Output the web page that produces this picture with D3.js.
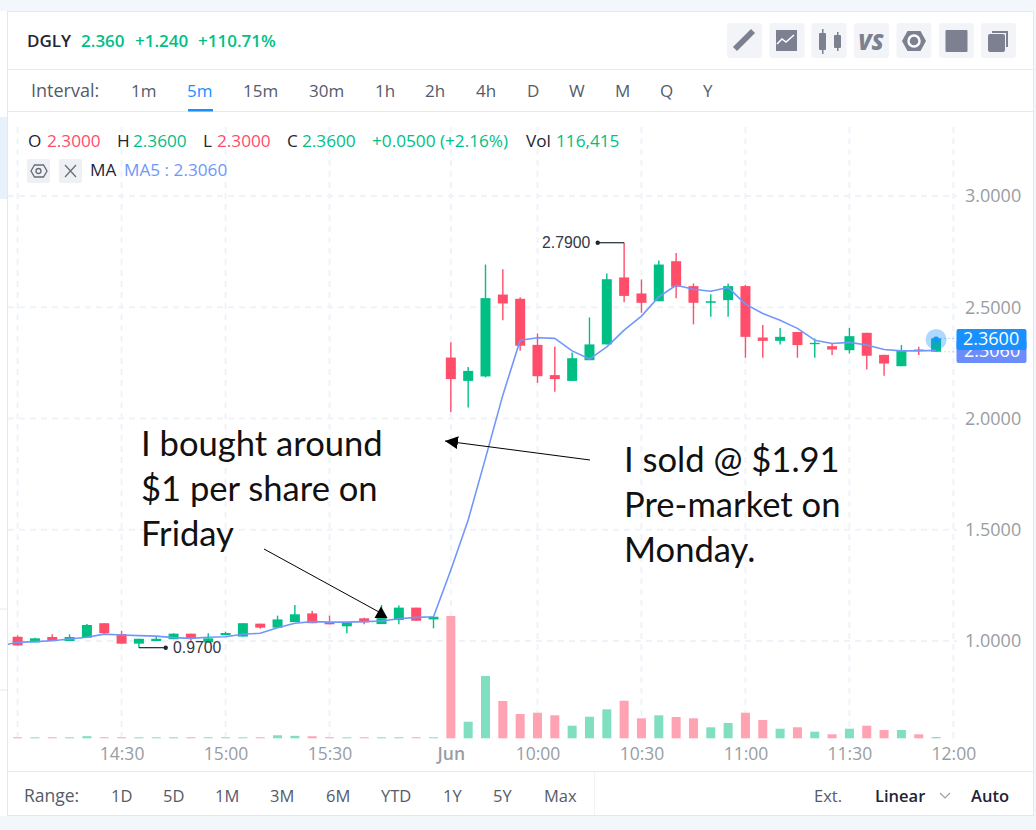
<!DOCTYPE html>
<html>
<head>
<meta charset="utf-8">
<script src="https://cdn.jsdelivr.net/npm/d3@7/dist/d3.min.js"></script>
<style>
html, body { margin: 0; padding: 0; background: #fff; overflow: hidden; }
svg { display: block; font-family: "Open Sans", sans-serif; }
</style>
</head>
<body>
<svg width="1036" height="830"></svg>
<script>
// one entry per 5 minute candle, friday first then monday
var opens = [1.019, 0.994, 1.018, 1.000, 1.015, 1.080, 1.031, 0.988, 1.000, 1.008, 1.033, 0.994, 1.026, 1.020, 1.078, 1.060, 1.085, 1.124, 1.084, 1.066, 1.102, 1.076, 1.094, 1.150, 1.097,
    2.274, 2.169, 2.189, 2.557, 2.538, 2.331, 2.195, 2.169, 2.262, 2.333, 2.634, 2.562, 2.527, 2.707, 2.595, 2.520, 2.532, 2.595, 2.364, 2.349, 2.389, 2.334, 2.325, 2.307, 2.385, 2.286, 2.235, 2.310, 2.300];
var highs = [1.025, 1.015, 1.030, 1.030, 1.076, 1.080, 1.046, 1.010, 1.018, 1.035, 1.033, 1.035, 1.042, 1.080, 1.078, 1.114, 1.162, 1.135, 1.114, 1.084, 1.105, 1.162, 1.160, 1.150, 1.109,
    2.343, 2.231, 2.692, 2.671, 2.545, 2.382, 2.324, 2.297, 2.454, 2.652, 2.790, 2.625, 2.710, 2.744, 2.607, 2.558, 2.607, 2.600, 2.420, 2.407, 2.389, 2.360, 2.340, 2.407, 2.385, 2.286, 2.330, 2.322, 2.360];
var lows = [0.980, 0.994, 1.000, 1.000, 1.015, 1.030, 0.988, 0.970, 1.000, 1.008, 0.997, 0.994, 1.026, 1.020, 1.055, 1.060, 1.085, 1.080, 1.075, 1.035, 1.075, 1.076, 1.075, 1.091, 1.057,
    2.028, 2.050, 2.185, 2.442, 2.304, 2.160, 2.120, 2.169, 2.262, 2.333, 2.523, 2.475, 2.527, 2.541, 2.423, 2.457, 2.457, 2.273, 2.273, 2.333, 2.273, 2.273, 2.285, 2.292, 2.220, 2.192, 2.235, 2.285, 2.300];
var closes = [0.980, 1.012, 1.000, 1.018, 1.072, 1.035, 0.988, 1.010, 1.010, 1.033, 1.009, 1.012, 1.036, 1.080, 1.060, 1.097, 1.120, 1.080, 1.075, 1.084, 1.084, 1.103, 1.150, 1.091, 1.109,
    2.177, 2.214, 2.541, 2.517, 2.327, 2.190, 2.177, 2.271, 2.333, 2.626, 2.551, 2.520, 2.692, 2.592, 2.520, 2.527, 2.595, 2.367, 2.349, 2.367, 2.330, 2.340, 2.310, 2.370, 2.282, 2.247, 2.304, 2.304, 2.360];
var volumes = [90, 90, 90, 90, 190, 90, 90, 90, 90, 90, 90, 90, 90, 90, 90, 270, 220, 180, 90, 90, 90, 90, 90, 90, 90,
    10950, 1486, 5576, 3338, 2175, 2291, 2058, 1128, 1933, 2595, 3365, 1790, 2058, 1906, 1790, 985, 1369, 2291, 1638, 859, 985, 591, 358, 859, 1128, 743, 743, 358, 116];
var ma5 = [0.994, 0.997, 1.001, 1.009, 1.017, 1.031, 1.027, 1.024, 1.022, 1.015, 1.012, 1.017, 1.019, 1.030, 1.035, 1.060, 1.080, 1.087, 1.085, 1.085, 1.087, 1.090, 1.100, 1.106, 1.109,
    1.319, 1.544, 1.822, 2.105, 2.352, 2.363, 2.360, 2.304, 2.267, 2.322, 2.397, 2.460, 2.547, 2.599, 2.581, 2.572, 2.589, 2.514, 2.472, 2.442, 2.405, 2.352, 2.337, 2.342, 2.330, 2.310, 2.304, 2.304, 2.306];

var priceTicks = [1, 1.5, 2, 2.5, 3];
var timeTicks = [6, 12, 18, 25, 30, 36, 42, 48, 54];
var timeLabels = ["14:30", "15:00", "15:30", "Jun", "10:00", "10:30", "11:00", "11:30", "12:00"];
var gridTimes = [0, 6, 12, 18, 25, 30, 36, 42, 48, 54];

var intervals = ["1m", "5m", "15m", "30m", "1h", "2h", "4h", "D", "W", "M", "Q", "Y"];
var intervalX = [131, 187, 243, 309, 375, 425, 476, 527, 569, 615, 660, 703];
var ranges = ["1D", "5D", "1M", "3M", "6M", "YTD", "1Y", "5Y", "Max"];
var rangeX = [111, 163, 215, 270, 326, 381, 443, 493, 544];

var UP = "#00bf85", DOWN = "#ff4d6a", MA = "#7098fb", BLUE = "#1890ff";
var INK = "#1f2536", UI = "#545b6b", AXIS = "#999da3", GRID = "#eff3f9";

var svg = d3.select("svg");

var x = d3.scaleLinear().domain([0, 54]).range([17.6, 953.4]);
var y = d3.scaleLinear().domain([1, 3]).range([641, 196]);
var v = d3.scaleLinear().domain([0, 10950]).range([738.3, 616]);

// page frame
svg.append("rect").attr("width", 1036).attr("height", 830).attr("fill", "#f3f6fb");
svg.append("rect").attr("x", 0).attr("y", 11).attr("width", 7).attr("height", 805).attr("fill", "#fff");
svg.append("rect").attr("x", 0).attr("y", 117).attr("width", 7).attr("height", 82).attr("fill", "#e6f1fc");
[609, 690].forEach(function(p) {
    svg.append("line").attr("x1", 0).attr("x2", 7).attr("y1", p).attr("y2", p).attr("stroke", "#e4e8f0");
});
svg.append("rect").attr("x", 7.5).attr("y", 11.5).attr("width", 1026).attr("height", 804)
    .attr("fill", "#fff").attr("stroke", "#e2e7f0");
svg.append("line").attr("x1", 8).attr("x2", 1033).attr("y1", 69.5).attr("y2", 69.5).attr("stroke", "#e6eaf1");
svg.append("line").attr("x1", 8).attr("x2", 1033).attr("y1", 111.5).attr("y2", 111.5).attr("stroke", "#e6eaf1");
svg.append("line").attr("x1", 8).attr("x2", 1033).attr("y1", 771.5).attr("y2", 771.5).attr("stroke", "#e6eaf1");
svg.append("line").attr("x1", 594.5).attr("x2", 594.5).attr("y1", 772).attr("y2", 815).attr("stroke", "#f1f3f7");

function label(str, px, py, fill, size, weight, family) {
    return svg.append("text").attr("x", px).attr("y", py).attr("fill", fill)
        .attr("font-size", size).attr("font-weight", weight || 400)
        .attr("font-family", family || null).text(str);
}

// header
label("DGLY", 27, 47, INK, 17, 600);
label("2.360", 81, 47, UP, 17, 600);
label("+1.240", 135, 47, UP, 17, 600);
label("+110.71%", 198, 47, UP, 17, 600);

// toolbar buttons
var toolX = [727, 769.5, 811.5, 854, 896.5, 939, 981];
toolX.forEach(function(tx) {
    svg.append("rect").attr("x", tx).attr("y", 23).attr("width", 35).attr("height", 35).attr("rx", 3).attr("fill", "#f3f4f7");
});
var ICON = "#7c8091";
svg.append("path").attr("d", "M734 47l3 3l14-14l-3-3z M749 32l3 3l2-2l-3-3z").attr("fill", ICON).attr("stroke", ICON).attr("stroke-width", 1.5);
svg.append("rect").attr("x", 776).attr("y", 30).attr("width", 21).attr("height", 21).attr("fill", ICON);
svg.append("path").attr("d", "M777 44l5-5l4 3l8-7").attr("fill", "none").attr("stroke", "#fff").attr("stroke-width", 1.5);
svg.append("rect").attr("x", 819).attr("y", 33).attr("width", 7).attr("height", 17).attr("rx", 1).attr("fill", ICON);
svg.append("rect").attr("x", 822).attr("y", 29).attr("width", 1.5).attr("height", 25).attr("fill", ICON);
svg.append("rect").attr("x", 834).attr("y", 35).attr("width", 7).attr("height", 13).attr("rx", 1).attr("fill", ICON);
svg.append("rect").attr("x", 837).attr("y", 32).attr("width", 1.5).attr("height", 19).attr("fill", ICON);
label("VS", 858, 50, ICON, 22, 800).attr("font-style", "italic");
svg.append("path").attr("d", "M902 41l5.5-10h13l5.5 10l-5.5 10h-13z").attr("fill", ICON);
svg.append("circle").attr("cx", 914).attr("cy", 41).attr("r", 5.5).attr("fill", "none").attr("stroke", "#fff").attr("stroke-width", 2.5);
svg.append("rect").attr("x", 945.5).attr("y", 30).attr("width", 22).attr("height", 22).attr("rx", 1).attr("fill", ICON);
svg.append("rect").attr("x", 988).attr("y", 34).attr("width", 17).attr("height", 18).attr("rx", 2).attr("fill", ICON);
svg.append("path").attr("d", "M992 32h15v15").attr("fill", "none").attr("stroke", ICON).attr("stroke-width", 2);

// interval row
label("Interval:", 31, 97, UI, 18, 500);
intervals.forEach(function(d, i) {
    label(d, intervalX[i], 97, d == "5m" ? BLUE : UI, 17, 500);
});
svg.append("rect").attr("x", 188).attr("y", 109).attr("width", 25).attr("height", 2.5).attr("fill", BLUE);

// grid
var grid = svg.append("g").attr("stroke", GRID).attr("stroke-width", 2).attr("stroke-dasharray", "6 5").attr("fill", "none");
grid.selectAll(".gv").data(gridTimes).enter().append("line").attr("class", "gv")
    .attr("x1", function(d) { return x(d); })
    .attr("x2", function(d) { return x(d); })
    .attr("y1", 127).attr("y2", 738);
grid.selectAll(".gh").data(priceTicks).enter().append("line").attr("class", "gh")
    .attr("x1", 8).attr("x2", 957)
    .attr("y1", function(d) { return y(d); })
    .attr("y2", function(d) { return y(d); });

// readout
var readout = [
    ["O", 28, INK], ["2.3000", 47, DOWN], ["H", 117, INK], ["2.3600", 133, UP], ["L", 203, INK], ["2.3000", 217, DOWN],
    ["C", 287, INK], ["2.3600", 302, UP], ["+0.0500 (+2.16%)", 372, UP], ["Vol", 526, INK], ["116,415", 556, UP]
];
readout.forEach(function(d) { label(d[0], d[1], 147, d[2], 17.2); });
[27, 59].forEach(function(bx) {
    svg.append("rect").attr("x", bx).attr("y", 159).attr("width", 23).attr("height", 24).attr("rx", 2).attr("fill", "#eef0f3");
});
svg.append("path").attr("d", "M31 171l3.5-6h9l3.5 6l-3.5 6h-9z").attr("fill", "none").attr("stroke", "#666b78").attr("stroke-width", 1.3);
svg.append("circle").attr("cx", 38.5).attr("cy", 171).attr("r", 2.5).attr("fill", "none").attr("stroke", "#666b78").attr("stroke-width", 1.3);
svg.append("path").attr("d", "M65 165l11 12M76 165l-11 12").attr("stroke", "#666b78").attr("stroke-width", 1.2);
label("MA", 90, 176, INK, 17.2);
label("MA5 : 2.3060", 124, 176, MA, 17.2);

// volume bars
svg.append("g").selectAll("rect").data(volumes).enter().append("rect")
    .attr("x", function(d, i) { return x(i) - 4.5; })
    .attr("y", function(d) { return v(d); })
    .attr("width", 9)
    .attr("height", function(d) { return v(0) - v(d); })
    .attr("fill", function(d, i) { return closes[i] >= opens[i] ? "#80dfc0" : "#ffa2b2"; });

// candles
var candles = svg.append("g").selectAll("g").data(opens).enter().append("g")
    .attr("fill", function(d, i) { return closes[i] >= opens[i] ? UP : DOWN; })
    .attr("stroke", function(d, i) { return closes[i] >= opens[i] ? UP : DOWN; });
candles.append("line")
    .attr("x1", function(d, i) { return x(i); })
    .attr("x2", function(d, i) { return x(i); })
    .attr("y1", function(d, i) { return y(highs[i]); })
    .attr("y2", function(d, i) { return y(lows[i]); })
    .attr("stroke-width", 1.4);
candles.append("rect")
    .attr("x", function(d, i) { return x(i) - 5; })
    .attr("y", function(d, i) { return y(Math.max(opens[i], closes[i])); })
    .attr("width", 10)
    .attr("height", function(d, i) { return Math.abs(y(opens[i]) - y(closes[i])); })
    .attr("stroke", "none");

// MA5, starts off the left edge of the panel
var maLine = d3.line()
    .x(function(d, i) { return x(i); })
    .y(function(d) { return y(d); });
svg.append("path").datum(ma5).attr("d", maLine).attr("fill", "none").attr("stroke", MA).attr("stroke-width", 1.6).attr("stroke-linejoin", "round");
svg.append("line").attr("x1", 8).attr("x2", x(0)).attr("y1", y(0.985)).attr("y2", y(ma5[0])).attr("stroke", MA).attr("stroke-width", 1.6);

// high and low markers
function marker(i, price, dotX, textX, text) {
    svg.append("path").attr("d", "M" + x(i) + " " + y(price) + "H" + dotX).attr("stroke", "#1f2536").attr("stroke-width", 1.2).attr("fill", "none");
    svg.append("circle").attr("cx", dotX).attr("cy", y(price)).attr("r", 2.2).attr("fill", "#1f2536");
    label(text, textX, y(price) + 5.5, "#333845", 15.8, 400, "Liberation Sans");
}
marker(35, 2.79, 597.7, 542, "2.7900");
marker(7, 0.97, 165.7, 173, "0.9700");

// last price
svg.append("line").attr("x1", x(53)).attr("x2", 957).attr("y1", y(2.36)).attr("y2", y(2.36)).attr("stroke", BLUE).attr("stroke-opacity", .35).attr("stroke-dasharray", "2 2");
svg.append("line").attr("x1", x(53)).attr("x2", 957).attr("y1", y(2.30)).attr("y2", y(2.30)).attr("stroke", MA).attr("stroke-opacity", .35).attr("stroke-dasharray", "2 2");
svg.append("circle").attr("cx", x(53)).attr("cy", y(2.36) + 1).attr("r", 10.5).attr("fill", BLUE).attr("fill-opacity", .35);
svg.append("circle").attr("cx", x(53)).attr("cy", y(2.36) + 1).attr("r", 3).attr("fill", BLUE);

// axes
var yAxis = d3.axisRight(y).tickValues(priceTicks).tickSize(0).tickPadding(0).tickFormat(d3.format(".4f"));
var gy = svg.append("g").attr("transform", "translate(965,0)").call(yAxis);
var xAxis = d3.axisBottom(x).tickValues(timeTicks).tickSize(0).tickPadding(0).tickFormat(function(d, i) { return timeLabels[i]; });
var gx = svg.append("g").attr("transform", "translate(0,748)").call(xAxis);
gy.select(".domain").remove();
gx.select(".domain").remove();
gy.selectAll("text").attr("fill", AXIS).attr("font-size", 18).attr("font-family", "Open Sans");
gx.selectAll("text").attr("fill", AXIS).attr("font-size", 17.5).attr("font-family", "Open Sans")
    .attr("font-weight", function(d) { return d == 25 ? 600 : 400; });

// price tags, the MA one sits underneath
svg.append("rect").attr("x", 956.5).attr("y", 340).attr("width", 70).attr("height", 23).attr("rx", 2).attr("fill", "#6a8dfb");
label("2.3060", 964, 357, "#fff", 18);
svg.append("rect").attr("x", 956.5).attr("y", 329).attr("width", 70).attr("height", 21).attr("rx", 2).attr("fill", BLUE);
label("2.3600", 963, 345, "#fff", 18);

// range row
label("Range:", 24, 802, UI, 17.5, 500);
ranges.forEach(function(d, i) { label(d, rangeX[i], 802, UI, 16.5, 500); });
label("Ext.", 814, 802, UI, 16.5, 500);
label("Linear", 875, 802, INK, 16.5, 600);
svg.append("path").attr("d", "M940 793l5 5l5-5").attr("fill", "none").attr("stroke", "#9a9eaa").attr("stroke-width", 1.2);
label("Auto", 971, 802, INK, 16.5, 600);

// hand drawn notes on top of the screenshot
var notes = [
    ["I bought around", 141, 456], ["$1 per share on", 141, 501], ["Friday", 141, 546],
    ["I sold @ $1.91", 624, 472], ["Pre-market on", 624, 517], ["Monday.", 624, 562]
];
notes.forEach(function(d) { label(d[0], d[1], d[2], "#111", 34.6, 400, "Lato"); });

var defs = svg.append("defs");
defs.append("marker").attr("id", "head").attr("viewBox", "0 0 10 10").attr("refX", 10).attr("refY", 5)
    .attr("markerWidth", 13).attr("markerHeight", 13).attr("markerUnits", "userSpaceOnUse").attr("orient", "auto")
    .append("path").attr("d", "M0 0L10 5L0 10z").attr("fill", "#000");
svg.append("line").attr("x1", 264).attr("y1", 549).attr("x2", 379).attr("y2", 612).attr("stroke", "#000").attr("stroke-width", 1);
svg.append("path").attr("d", "M381 606.5L387.5 618H374.5z").attr("fill", "#000");
svg.append("line").attr("x1", 590).attr("y1", 460).attr("x2", 445).attr("y2", 441).attr("stroke", "#000").attr("stroke-width", 1).attr("marker-end", "url(#head)");
</script>
</body>
</html>
